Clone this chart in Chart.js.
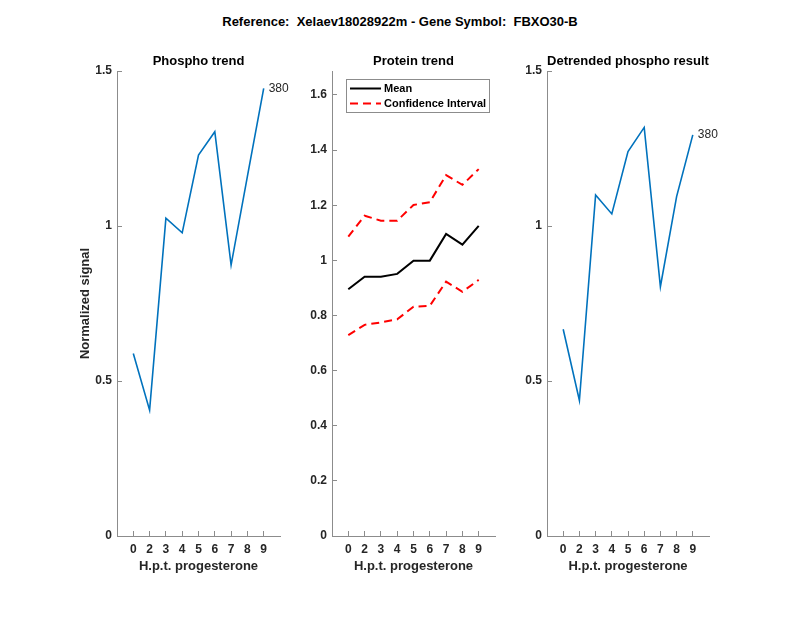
<!DOCTYPE html>
<html><head><meta charset="utf-8">
<script src="https://cdn.jsdelivr.net/npm/chart.js@4"></script>
<style>
body{margin:0;background:#fff;}
#wrap{position:relative;width:800px;height:618px;overflow:hidden;background:#fff;}
canvas{position:absolute;top:0;}
#title{position:absolute;top:14px;left:0;width:800px;text-align:center;font:bold 13px "Liberation Sans",Arial,sans-serif;color:#000;white-space:pre;}
</style></head><body>
<div id="wrap">
<div id="title">Reference:  Xelaev18028922m - Gene Symbol:  FBXO30-B</div>
<canvas id="c1" style="left:0px;width:300px;height:618px"></canvas>
<canvas id="c2" style="left:300px;width:215px;height:618px"></canvas>
<canvas id="c3" style="left:500px;width:240px;height:618px"></canvas>
</div>
<script>
const timepoints = ['0','2','3','4','5','6','7','8','9'];
const phospho = [0.589, 0.406, 1.025, 0.978, 1.229, 1.304, 0.874, 1.160, 1.444];
const proteinMean = [0.895, 0.941, 0.941, 0.951, 0.999, 0.999, 1.096, 1.057, 1.125];
const ciUpper = [1.086, 1.162, 1.144, 1.144, 1.201, 1.211, 1.309, 1.274, 1.331];
const ciLower = [0.729, 0.766, 0.775, 0.786, 0.832, 0.835, 0.923, 0.886, 0.929];
const detrended = [0.667, 0.437, 1.100, 1.039, 1.240, 1.318, 0.804, 1.095, 1.294];
const phosphoTicks = [0, 0.5, 1, 1.5];
const proteinTicks = [0, 0.2, 0.4, 0.6, 0.8, 1, 1.2, 1.4, 1.6];
const peptideLabel = '380';

const FONT = '"Liberation Sans", Arial, Helvetica, sans-serif';
const AXIS = '#8c8c8c';
const TXT = '#262626';
const BLUE = '#0072BD';

function pts(vals){ return vals.map((v,i)=>({x:i+1, y:v})); }

const panelTitle = {
  id:'panelTitle',
  afterDraw(chart){
    const t = chart.options.plugins.panelTitle;
    if(!t || !t.text) return;
    const {ctx, chartArea:a} = chart;
    ctx.save();
    ctx.font = 'bold 13px ' + FONT;
    ctx.fillStyle = '#000';
    ctx.textAlign = 'center';
    ctx.textBaseline = 'middle';
    ctx.fillText(t.text, (a.left+a.right)/2, 61);
    ctx.restore();
  }
};
const endLabel = {
  id:'endLabel',
  afterDraw(chart){
    const o = chart.options.plugins.endLabel;
    if(!o || !o.text) return;
    const meta = chart.getDatasetMeta(0);
    const p = meta.data[meta.data.length-1];
    const ctx = chart.ctx;
    ctx.save();
    ctx.font = '12px ' + FONT;
    ctx.fillStyle = TXT;
    ctx.textAlign = 'left';
    ctx.textBaseline = 'middle';
    ctx.fillText(o.text, p.x + 5, p.y);
    ctx.restore();
  }
};
const boxLegend = {
  id:'boxLegend',
  afterDraw(chart){
    const o = chart.options.plugins.boxLegend;
    if(!o || !o.show) return;
    const {ctx, chartArea:a} = chart;
    const x0 = a.left + 14, y0 = 79, w = 143, h = 33;
    ctx.save();
    ctx.fillStyle = '#fff';
    ctx.fillRect(x0, y0, w, h);
    ctx.strokeStyle = AXIS;
    ctx.lineWidth = 1;
    ctx.strokeRect(x0+0.5, y0+0.5, w, h);
    const items = [chart.data.datasets[0], chart.data.datasets[1]];
    items.forEach((ds,i)=>{
      const yy = y0 + 9.5 + i*15;
      ctx.strokeStyle = ds.borderColor;
      ctx.lineWidth = 2;
      ctx.setLineDash(ds.borderDash || []);
      ctx.beginPath();
      ctx.moveTo(x0+4, yy); ctx.lineTo(x0+35, yy);
      ctx.stroke();
      ctx.setLineDash([]);
      ctx.font = 'bold 11px ' + FONT;
      ctx.fillStyle = '#000';
      ctx.textAlign = 'left';
      ctx.textBaseline = 'middle';
      ctx.fillText(ds.label, x0+38, yy);
    });
    ctx.restore();
  }
};

function makeChart(id, cw, datasets, o){
  const cv = document.getElementById(id);
  cv.width = cw; cv.height = 618;
  return new Chart(cv, {
    type:'line',
    data:{datasets},
    options:{
      responsive:false, animation:false, devicePixelRatio:1,
      layout:{padding:{left:0, right:o.padRight, top:71, bottom:0}},
      plugins:{
        legend:{display:false}, tooltip:{enabled:false},
        panelTitle:{text:o.title}, endLabel:{text:o.label}, boxLegend:{show:o.legend}
      },
      elements:{point:{radius:0}, line:{tension:0}},
      scales:{
        x:{
          type:'linear', min:0, max:timepoints.length+1,
          afterBuildTicks(s){ s.ticks = timepoints.map((t,i)=>({value:i+1})); },
          afterFit(s){ s.height = 82; },
          ticks:{ callback:(v)=>timepoints[v-1], color:TXT, padding:11, maxRotation:0, autoSkip:false,
                  font:{family:FONT, size:12, weight:'bold'} },
          grid:{ drawOnChartArea:false, tickLength:-5, color:AXIS, tickColor:AXIS },
          border:{ color:AXIS, width:1 },
          title:{ display:true, text:'H.p.t. progesterone', color:TXT,
                  font:{family:FONT, size:13, weight:'bold'}, padding:{top:0,bottom:44} }
        },
        y:{
          type:'linear', min:0, max:o.yMax,
          afterBuildTicks(s){ s.ticks = o.yTicks.map(v=>({value:v})); },
          afterFit(s){ s.width = o.yWidth; },
          ticks:{ callback:(v)=>String(v), color:TXT, padding:10,
                  font:{family:FONT, size:12, weight:'bold'} },
          grid:{ drawOnChartArea:false, tickLength:-5, color:AXIS, tickColor:AXIS },
          border:{ color:AXIS, width:1 },
          title:{ display:!!o.yTitle, text:o.yTitle||'', color:TXT,
                  font:{family:FONT, size:13, weight:'bold'}, padding:{top:78,bottom:0} }
        }
      }
    },
    plugins:[panelTitle, endLabel, boxLegend]
  });
}

makeChart('c1', 300, [
  {label:'Phospho', data:pts(phospho), borderColor:BLUE, borderWidth:1.6, fill:false}
], {padRight:20, yWidth:117, yMax:1.5, yTicks:phosphoTicks, yTitle:'Normalized signal', title:'Phospho trend', label:peptideLabel});

makeChart('c2', 215, [
  {label:'Mean', data:pts(proteinMean), borderColor:'#000000', borderWidth:2, fill:false},
  {label:'Confidence Interval', data:pts(ciUpper), borderColor:'#ff0000', borderWidth:2, borderDash:[8,5], fill:false},
  {label:'Confidence Interval (lower)', data:pts(ciLower), borderColor:'#ff0000', borderWidth:2, borderDash:[8,5], fill:false}
], {padRight:20, yWidth:32, yMax:1.687, yTicks:proteinTicks, title:'Protein trend', legend:true});

makeChart('c3', 240, [
  {label:'Detrended', data:pts(detrended), borderColor:BLUE, borderWidth:1.6, fill:false}
], {padRight:31, yWidth:47, yMax:1.5, yTicks:phosphoTicks, title:'Detrended phospho result', label:peptideLabel});
</script>
</body></html>
